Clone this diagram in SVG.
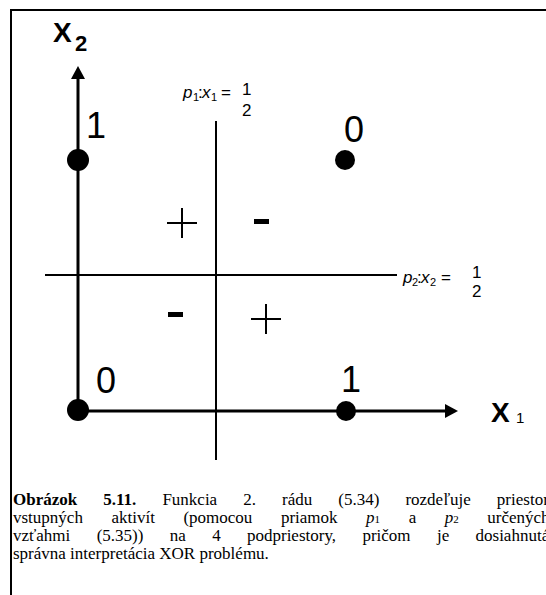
<svg xmlns="http://www.w3.org/2000/svg" width="546" height="595" viewBox="0 0 546 595">
<style>
.frame{fill:none;stroke:#000;stroke-width:2}
.axis{stroke:#000;stroke-width:3;fill:none}
.sep{stroke:#000;stroke-width:2;fill:none}
.dot{fill:#000}
.big{font-family:"Liberation Sans",Arial,sans-serif;font-size:36px;fill:#000}
.ax{font-family:"Liberation Sans",Arial,sans-serif;font-weight:bold;fill:#000}
.lbl{font-family:"Liberation Sans",Arial,sans-serif;font-size:17px;fill:#000}
.sub{font-family:"Liberation Sans",Arial,sans-serif;font-size:11px;fill:#000}
.it{font-style:italic}
.cap{font-family:"Liberation Serif","Times New Roman",serif;font-size:17px;fill:#000}
</style>
<rect width="546" height="595" fill="#fff"/>
<path class="frame" d="M11,600 V10 H550"/>

<g id="connectors">
  <line class="axis" x1="78" y1="411" x2="78" y2="78"/>
  <polygon points="78,66 71,79 85,79" fill="#000"/>
  <line class="axis" x1="78" y1="411" x2="446" y2="411"/>
  <polygon points="458,411 445,404 445,418" fill="#000"/>
  <line class="sep" x1="216" y1="121" x2="216" y2="460"/>
  <line class="sep" x1="45" y1="275" x2="397" y2="275"/>
</g>

<g id="axis-x2-label">
  <text class="ax" x="53" y="42" font-size="28">X</text>
  <text class="ax" x="75" y="51" font-size="22">2</text>
</g>
<g id="axis-x1-label">
  <text class="ax" x="491" y="422" font-size="28">X</text>
  <text class="lbl" x="516" y="423" style="font-size:15px">1</text>
</g>

<g id="p1-label">
  <text class="lbl it" x="183" y="98">p</text>
  <text class="sub" x="193" y="101">1</text>
  <text class="lbl" x="198" y="98">:</text>
  <text class="lbl it" x="202" y="98">x</text>
  <text class="sub" x="211" y="101">1</text>
  <text class="lbl" x="221" y="98">=</text>
  <text class="lbl" x="242" y="95">1</text>
  <text class="lbl" x="242" y="116">2</text>
</g>
<g id="p2-label">
  <text class="lbl it" x="403" y="283">p</text>
  <text class="sub" x="412" y="286">2</text>
  <text class="lbl" x="417" y="283">:</text>
  <text class="lbl it" x="421" y="283">x</text>
  <text class="sub" x="430" y="286">2</text>
  <text class="lbl" x="441" y="283">=</text>
  <text class="lbl" x="472" y="278">1</text>
  <text class="lbl" x="472" y="297">2</text>
</g>

<g id="point-01">
  <circle class="dot" cx="78" cy="160" r="11"/>
  <text class="big" x="86" y="138">1</text>
</g>
<g id="point-11">
  <circle class="dot" cx="345" cy="160" r="10"/>
  <text class="big" x="344" y="142">0</text>
</g>
<g id="point-00">
  <circle class="dot" cx="78" cy="410" r="11"/>
  <text class="big" x="96" y="393">0</text>
</g>
<g id="point-10">
  <circle class="dot" cx="346" cy="411" r="10"/>
  <text class="big" x="341" y="392">1</text>
</g>

<g id="signs">
  <path d="M167,223 H197 M182,208 V238" stroke="#000" stroke-width="2"/>
  <rect x="254" y="219" width="15" height="5" fill="#000"/>
  <rect x="168" y="312" width="15" height="5" fill="#000"/>
  <path d="M251,319 H281 M266,304 V334" stroke="#000" stroke-width="2"/>
</g>

<g id="caption">
  <text class="cap" x="13" y="505" style="word-spacing:21.8px"><tspan font-weight="bold">Obrázok 5.11.</tspan> Funkcia 2. rádu (5.34) rozdeľuje priestor</text>
  <text class="cap" x="13" y="523" style="word-spacing:24.3px">vstupných aktivít (pomocou priamok <tspan font-style="italic">p</tspan><tspan font-size="11">1</tspan> a <tspan font-style="italic">p</tspan><tspan font-size="11">2</tspan> určených</text>
  <text class="cap" x="13" y="541" style="word-spacing:22.1px">vzťahmi (5.35)) na 4 podpriestory, pričom je dosiahnutá</text>
  <text class="cap" x="13" y="559">správna interpretácia XOR problému.</text>
</g>
</svg>
